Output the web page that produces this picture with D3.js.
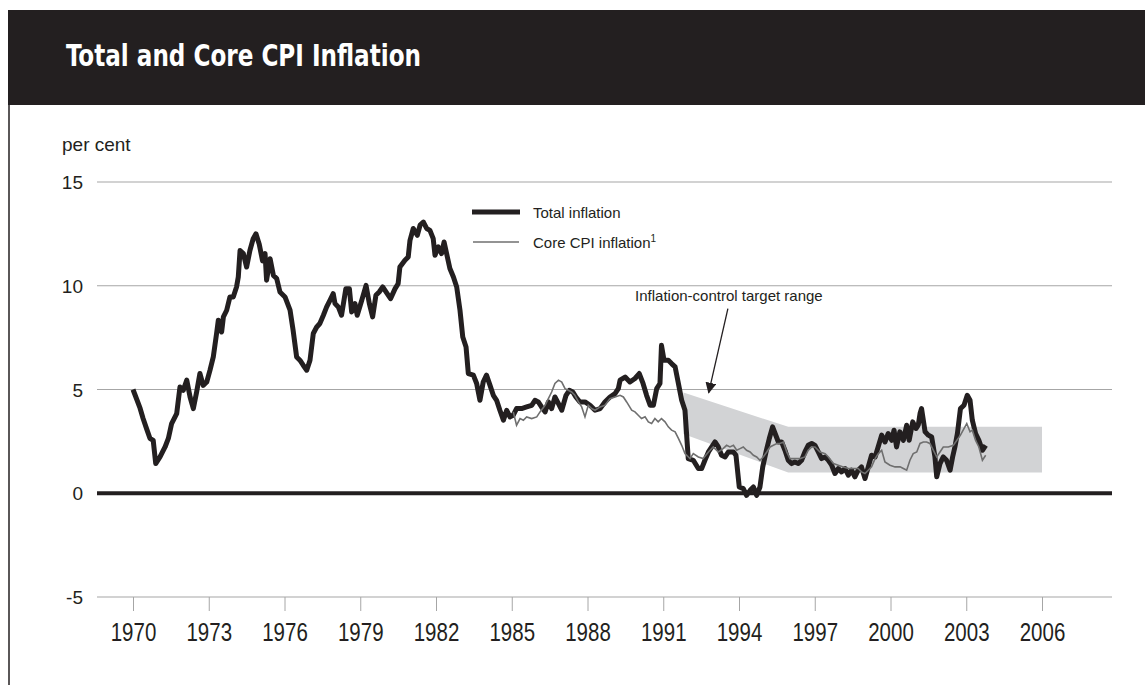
<!DOCTYPE html>
<html>
<head>
<meta charset="utf-8">
<script src="https://cdn.jsdelivr.net/npm/d3@7"></script>
<style>
  body { margin: 0; background: #fff; }
  svg { display: block; }
</style>
</head>
<body>
<script>
// Total CPI inflation, decimal year / per cent
const totalYears = [
  1970.00, 1970.28, 1970.40, 1970.54, 1970.67, 1970.80, 1970.90, 1971.07, 1971.27, 1971.40,
  1971.53, 1971.73, 1971.86, 1971.99, 1972.13, 1972.26, 1972.39, 1972.52, 1972.65, 1972.78,
  1972.92, 1973.05, 1973.18, 1973.31, 1973.38, 1973.51, 1973.58, 1973.71, 1973.84, 1973.97,
  1974.10, 1974.17, 1974.24, 1974.37, 1974.50, 1974.63, 1974.76, 1974.87, 1975.00, 1975.13,
  1975.23, 1975.29, 1975.43, 1975.56, 1975.69, 1975.82, 1976.02, 1976.22, 1976.34, 1976.48,
  1976.61, 1976.74, 1976.88, 1977.01, 1977.14, 1977.27, 1977.40, 1977.54, 1977.67, 1977.80,
  1977.93, 1978.00, 1978.13, 1978.26, 1978.43, 1978.57, 1978.66, 1978.79, 1978.88, 1979.06,
  1979.23, 1979.36, 1979.49, 1979.62, 1979.75, 1979.89, 1980.02, 1980.20, 1980.38, 1980.50,
  1980.57, 1980.77, 1980.90, 1980.97, 1981.10, 1981.26, 1981.37, 1981.50, 1981.63, 1981.76,
  1981.89, 1981.96, 1982.09, 1982.22, 1982.32, 1982.42, 1982.55, 1982.69, 1982.82, 1982.95,
  1983.06, 1983.19, 1983.28, 1983.48, 1983.61, 1983.74, 1983.87, 1984.00, 1984.14, 1984.27,
  1984.40, 1984.53, 1984.67, 1984.80, 1984.93, 1985.06, 1985.19, 1985.39, 1985.59, 1985.79,
  1985.92, 1986.05, 1986.18, 1986.32, 1986.45, 1986.58, 1986.71, 1986.85, 1986.98, 1987.15,
  1987.28, 1987.42, 1987.54, 1987.70, 1987.90, 1988.10, 1988.30, 1988.50, 1988.69, 1988.89,
  1989.09, 1989.22, 1989.29, 1989.49, 1989.68, 1989.88, 1990.05, 1990.20, 1990.34, 1990.48,
  1990.61, 1990.74, 1990.87, 1990.93, 1991.03, 1991.20, 1991.33, 1991.47, 1991.60, 1991.73,
  1991.86, 1991.99, 1992.19, 1992.39, 1992.52, 1992.65, 1992.79, 1992.92, 1993.05, 1993.18,
  1993.31, 1993.45, 1993.58, 1993.78, 1993.88, 1994.01, 1994.17, 1994.30, 1994.44, 1994.57,
  1994.70, 1994.83, 1994.94, 1995.07, 1995.20, 1995.33, 1995.43, 1995.56, 1995.69, 1995.82,
  1995.95, 1996.08, 1996.21, 1996.35, 1996.48, 1996.61, 1996.74, 1996.88, 1997.01, 1997.14,
  1997.27, 1997.41, 1997.54, 1997.67, 1997.80, 1997.93, 1998.06, 1998.20, 1998.33, 1998.46,
  1998.59, 1998.72, 1998.85, 1998.99, 1999.12, 1999.25, 1999.39, 1999.51, 1999.65, 1999.78,
  1999.91, 2000.05, 2000.14, 2000.24, 2000.37, 2000.51, 2000.64, 2000.74, 2000.88, 2001.01,
  2001.10, 2001.17, 2001.23, 2001.37, 2001.50, 2001.63, 2001.76, 2001.83, 2001.96, 2002.09,
  2002.22, 2002.36, 2002.46, 2002.55, 2002.65, 2002.77, 2002.91, 2003.04, 2003.15, 2003.24,
  2003.37, 2003.50, 2003.64, 2003.77
];
const totalValues = [
  5.00, 4.10, 3.60, 3.10, 2.65, 2.55, 1.43, 1.75, 2.23, 2.64,
  3.36, 3.84, 5.12, 4.96, 5.45, 4.64, 4.08, 4.88, 5.77, 5.20,
  5.36, 5.93, 6.57, 7.70, 8.34, 7.77, 8.50, 8.82, 9.46, 9.46,
  9.94, 10.42, 11.70, 11.55, 10.90, 11.70, 12.27, 12.50, 12.00, 11.20,
  11.55, 10.27, 11.30, 10.50, 10.35, 9.70, 9.46, 8.82, 7.86, 6.57,
  6.41, 6.17, 5.93, 6.41, 7.70, 8.00, 8.18, 8.58, 8.98, 9.30,
  9.62, 9.14, 8.98, 8.58, 9.86, 9.86, 8.74, 9.14, 8.58, 9.30,
  10.02, 9.14, 8.50, 9.54, 9.70, 9.94, 9.70, 9.38, 9.86, 10.10,
  10.90, 11.23, 11.39, 12.19, 12.76, 12.43, 12.92, 13.07, 12.76, 12.67,
  12.27, 11.47, 11.87, 11.55, 12.11, 11.55, 10.83, 10.42, 9.94, 8.82,
  7.53, 7.05, 5.77, 5.69, 5.29, 4.48, 5.36, 5.69, 5.20, 4.72,
  4.48, 4.00, 3.52, 4.00, 3.68, 3.76, 4.08, 4.08, 4.16, 4.24,
  4.48, 4.40, 4.16, 3.92, 4.40, 4.08, 4.64, 4.32, 4.00, 4.72,
  4.96, 4.88, 4.64, 4.40, 4.40, 4.24, 4.00, 4.08, 4.40, 4.64,
  4.80, 5.04, 5.45, 5.60, 5.36, 5.53, 5.77, 5.29, 4.72, 4.24,
  4.24, 5.04, 5.29, 7.13, 6.41, 6.41, 6.25, 6.09, 5.29, 4.48,
  4.00, 1.67, 1.59, 1.19, 1.19, 1.59, 1.99, 2.23, 2.47, 2.23,
  1.83, 1.75, 1.99, 1.99, 1.83, 0.30, 0.22, -0.10, 0.14, 0.30,
  -0.10, 0.30, 1.27, 1.99, 2.64, 3.20, 2.88, 2.47, 2.47, 2.07,
  1.59, 1.43, 1.51, 1.43, 1.59, 1.99, 2.31, 2.40, 2.31, 1.99,
  1.67, 1.75, 1.59, 1.35, 0.95, 1.19, 1.03, 1.19, 0.87, 1.11,
  0.79, 1.11, 1.27, 0.71, 1.27, 1.83, 1.75, 2.23, 2.80, 2.47,
  2.88, 2.55, 3.04, 2.23, 2.96, 2.55, 3.28, 2.55, 3.44, 3.12,
  3.28, 3.84, 4.08, 2.96, 2.80, 2.71, 1.75, 0.79, 1.43, 1.75,
  1.59, 1.11, 1.75, 2.23, 2.88, 4.08, 4.24, 4.72, 4.48, 3.52,
  2.88, 2.55, 2.07, 2.31
];

// Core CPI inflation
const coreYears = [
  1985.06, 1985.19, 1985.33, 1985.46, 1985.59, 1985.79, 1985.99, 1986.12, 1986.32, 1986.45,
  1986.58, 1986.71, 1986.85, 1986.98, 1987.11, 1987.24, 1987.37, 1987.50, 1987.64, 1987.77,
  1987.90, 1988.03, 1988.16, 1988.30, 1988.50, 1988.69, 1988.89, 1989.09, 1989.29, 1989.42,
  1989.55, 1989.75, 1989.88, 1990.01, 1990.14, 1990.28, 1990.41, 1990.54, 1990.67, 1990.80,
  1990.93, 1991.07, 1991.20, 1991.33, 1991.47, 1991.60, 1991.73, 1991.86, 1992.06, 1992.19,
  1992.39, 1992.58, 1992.79, 1992.98, 1993.18, 1993.37, 1993.51, 1993.64, 1993.78, 1993.91,
  1994.04, 1994.17, 1994.30, 1994.44, 1994.57, 1994.70, 1994.83, 1994.96, 1995.10, 1995.23,
  1995.36, 1995.50, 1995.62, 1995.76, 1995.89, 1996.02, 1996.22, 1996.42, 1996.61, 1996.74,
  1996.88, 1997.01, 1997.21, 1997.41, 1997.54, 1997.74, 1997.93, 1998.13, 1998.33, 1998.53,
  1998.72, 1998.85, 1998.99, 1999.12, 1999.25, 1999.39, 1999.52, 1999.65, 1999.78, 1999.98,
  2000.18, 2000.38, 2000.51, 2000.64, 2000.77, 2000.90, 2001.04, 2001.17, 2001.30, 2001.43,
  2001.56, 2001.70, 2001.83, 2001.96, 2002.09, 2002.29, 2002.49, 2002.63, 2002.77, 2002.91,
  2003.02, 2003.15, 2003.24, 2003.37, 2003.50, 2003.64, 2003.77
];
const coreValues = [
  3.92, 3.28, 3.60, 3.52, 3.68, 3.60, 3.68, 3.92, 4.24, 4.56,
  4.88, 5.29, 5.45, 5.36, 5.04, 4.96, 4.88, 4.72, 4.40, 4.16,
  3.68, 4.24, 4.08, 4.00, 4.16, 4.24, 4.56, 4.64, 4.72, 4.64,
  4.40, 4.00, 3.92, 3.76, 3.60, 3.68, 3.44, 3.36, 3.60, 3.44,
  3.60, 3.44, 3.20, 3.04, 2.96, 2.64, 2.31, 1.91, 1.67, 1.91,
  1.75, 1.67, 1.99, 2.23, 1.99, 2.15, 2.31, 2.23, 2.31, 2.07,
  2.15, 2.23, 2.07, 1.99, 1.83, 1.75, 1.59, 1.75, 1.99, 2.23,
  2.31, 2.40, 2.40, 2.47, 1.99, 1.67, 1.67, 1.67, 1.75, 2.07,
  2.23, 2.23, 1.99, 1.91, 1.75, 1.43, 1.35, 1.27, 1.19, 1.19,
  1.19, 1.03, 0.95, 1.11, 1.27, 1.67, 1.91, 2.07, 1.51, 1.35,
  1.27, 1.27, 1.19, 1.11, 1.59, 1.91, 1.99, 2.40, 2.47, 2.47,
  2.40, 2.07, 1.75, 1.99, 2.23, 2.23, 2.31, 2.55, 2.80, 3.12,
  3.36, 2.96, 3.04, 2.55, 2.23, 1.59, 1.83
];

// Inflation-control target range: [year, low, high]
const bandYears = [1991.80, 1995.95, 2006.00];
const bandLow = [2.85, 1.00, 1.00];
const bandHigh = [4.85, 3.20, 3.20];

const xTicks = [1970, 1973, 1976, 1979, 1982, 1985, 1988, 1991, 1994, 1997, 2000, 2003, 2006];
const yTicks = [-5, 0, 5, 10, 15];

const width = 1145, height = 685;
const ink = "#231f20";
const light = "Liberation Sans, Arial, sans-serif";

const svg = d3.select("body").append("svg")
  .attr("width", width)
  .attr("height", height);

// header bar and left rule
svg.append("rect")
  .attr("x", 8).attr("y", 10)
  .attr("width", width - 8).attr("height", 95)
  .attr("fill", ink);
svg.append("line")
  .attr("x1", 9).attr("x2", 9)
  .attr("y1", 100).attr("y2", height)
  .attr("stroke", ink).attr("stroke-width", 1.5);
svg.append("text")
  .attr("x", 66).attr("y", 66)
  .attr("fill", "#fff")
  .attr("font-family", "Liberation Sans Narrow, DejaVu Sans Condensed, Arial Narrow, sans-serif")
  .attr("font-weight", "bold")
  .attr("font-size", 30)
  .attr("textLength", 355)
  .attr("lengthAdjust", "spacingAndGlyphs")
  .text("Total and Core CPI Inflation");

const x = d3.scaleLinear().domain([1970, 2006]).range([133, 1042]);
const y = d3.scaleLinear().domain([-5, 15]).range([597, 182]);

// gridlines
svg.append("g")
  .selectAll("line")
  .data(yTicks.filter(d => d !== 0))
  .join("line")
  .attr("x1", 97).attr("x2", 1112)
  .attr("y1", d => y(d)).attr("y2", d => y(d))
  .attr("stroke", "#a6a6a6").attr("stroke-width", 1.2);

// y labels
svg.append("g")
  .selectAll("text")
  .data(yTicks)
  .join("text")
  .attr("x", 83)
  .attr("y", d => y(d) + 7)
  .attr("text-anchor", "end")
  .attr("font-family", light)
  .attr("font-size", 19)
  .attr("fill", ink)
  .text(d => d);

svg.append("text")
  .attr("x", 62).attr("y", 151)
  .attr("font-family", light)
  .attr("font-size", 19)
  .attr("fill", ink)
  .text("per cent");

// x axis ticks and labels (narrow face: squeeze a regular one)
const xAxis = svg.append("g")
  .attr("transform", `translate(0,${y(-5)})`)
  .call(d3.axisBottom(x).tickValues(xTicks).tickFormat(d3.format("d")).tickSize(14).tickPadding(12));
xAxis.select(".domain").remove();
xAxis.selectAll(".tick line").attr("stroke", "#a6a6a6");
xAxis.selectAll(".tick text")
  .attr("fill", ink)
  .attr("font-family", light)
  .attr("font-size", 25)
  .attr("transform", "scale(0.82,1)");

// target band
const band = bandYears.map((d, i) => ({ year: d, lo: bandLow[i], hi: bandHigh[i] }));
svg.append("path")
  .datum(band)
  .attr("fill", "#d2d3d5")
  .attr("d", d3.area().x(d => x(d.year)).y0(d => y(d.lo)).y1(d => y(d.hi)));

// zero line
svg.append("line")
  .attr("x1", 97).attr("x2", 1112)
  .attr("y1", y(0)).attr("y2", y(0))
  .attr("stroke", ink).attr("stroke-width", 4);

const line = d3.line().x(d => x(d[0])).y(d => y(d[1]));

svg.append("path")
  .datum(totalYears.map((d, i) => [d, totalValues[i]]))
  .attr("fill", "none")
  .attr("stroke", ink)
  .attr("stroke-width", 5)
  .attr("stroke-linejoin", "round")
  .attr("d", line);

svg.append("path")
  .datum(coreYears.map((d, i) => [d, coreValues[i]]))
  .attr("fill", "none")
  .attr("stroke", "#6f6f6f")
  .attr("stroke-width", 1.6)
  .attr("d", line);

// legend
const legend = svg.append("g").attr("font-family", light).attr("font-size", 15).attr("fill", ink);
legend.append("line")
  .attr("x1", 472).attr("x2", 520).attr("y1", 212).attr("y2", 212)
  .attr("stroke", ink).attr("stroke-width", 5);
legend.append("text").attr("x", 533).attr("y", 218).text("Total inflation");
legend.append("line")
  .attr("x1", 473).attr("x2", 519).attr("y1", 242).attr("y2", 242)
  .attr("stroke", "#6f6f6f").attr("stroke-width", 1.3);
const core = legend.append("text").attr("x", 533).attr("y", 248).text("Core CPI inflation");
core.append("tspan").attr("font-size", 10).attr("dy", -6).text("1");

// annotation
svg.append("text")
  .attr("x", x(1993.6)).attr("y", y(9.25))
  .attr("text-anchor", "middle")
  .attr("font-family", light)
  .attr("font-size", 15)
  .attr("fill", ink)
  .text("Inflation-control target range");

svg.append("defs").append("marker")
  .attr("id", "arrow")
  .attr("viewBox", "0 0 10 10")
  .attr("refX", 9).attr("refY", 5)
  .attr("markerWidth", 11).attr("markerHeight", 11)
  .attr("markerUnits", "userSpaceOnUse")
  .attr("orient", "auto")
  .append("path")
  .attr("d", "M0,0L10,5L0,10Z")
  .attr("fill", ink);

svg.append("line")
  .attr("x1", x(1993.56)).attr("y1", y(8.9))
  .attr("x2", x(1992.8)).attr("y2", y(4.85))
  .attr("stroke", ink).attr("stroke-width", 1.3)
  .attr("marker-end", "url(#arrow)");
</script>
</body>
</html>
